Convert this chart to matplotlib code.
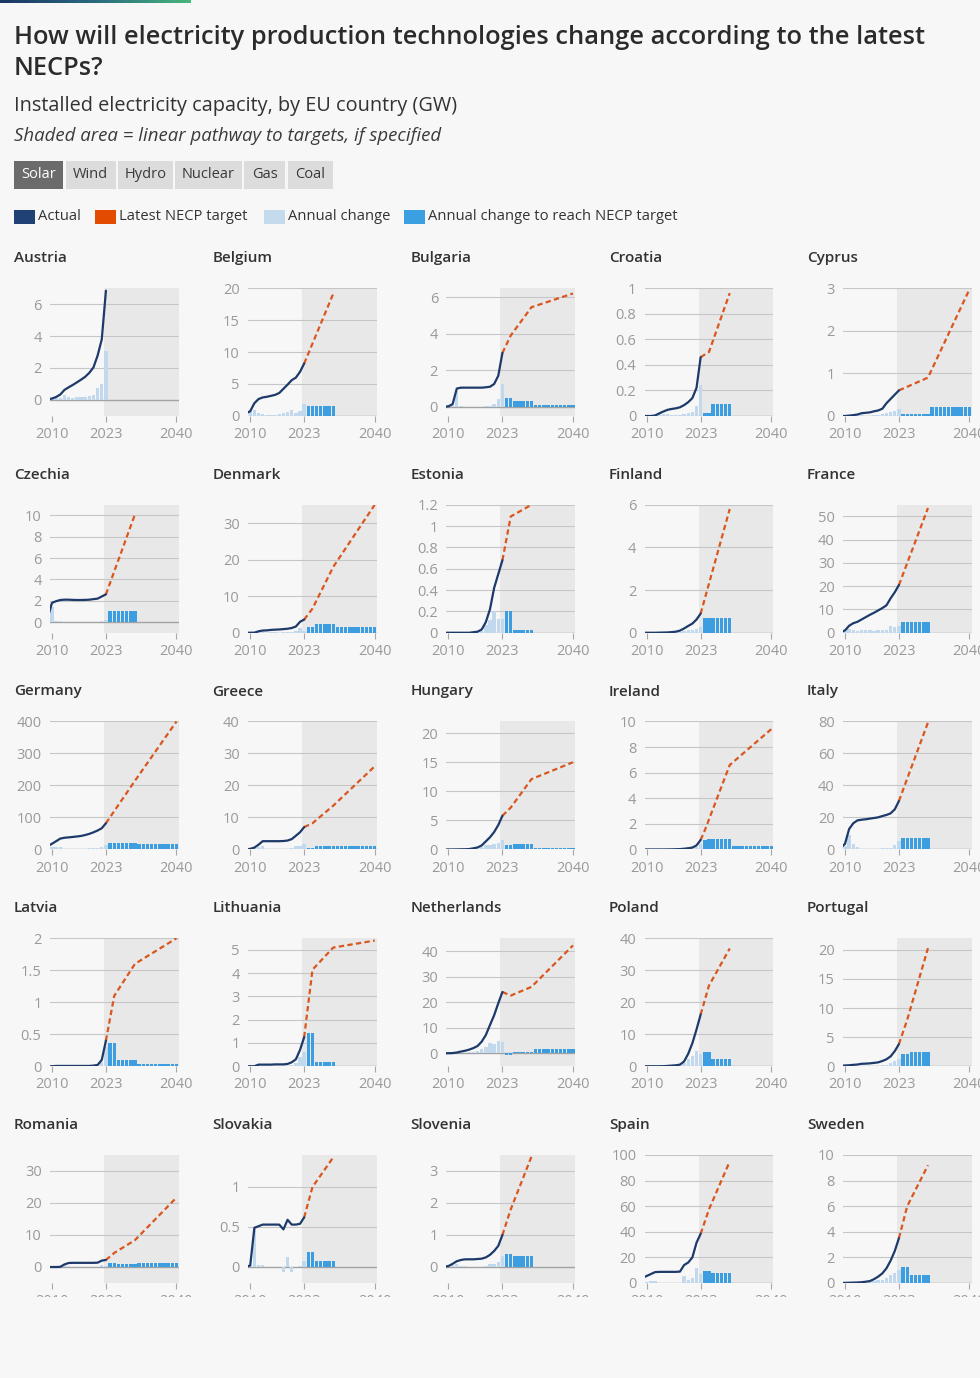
import numpy as np
import matplotlib
matplotlib.use('Agg')
import matplotlib.pyplot as plt
from matplotlib.patches import Rectangle
from matplotlib.colors import LinearSegmentedColormap

plt.rcParams['font.family'] = ['Open Sans', 'DejaVu Sans']

W, H = 980, 1378
BG = '#f7f7f7'

# ---- data (GW) ----
countries = ['Austria', 'Belgium', 'Bulgaria', 'Croatia', 'Cyprus',
             'Czechia', 'Denmark', 'Estonia', 'Finland', 'France',
             'Germany', 'Greece', 'Hungary', 'Ireland', 'Italy',
             'Latvia', 'Lithuania', 'Netherlands', 'Poland', 'Portugal',
             'Romania', 'Slovakia', 'Slovenia', 'Spain', 'Sweden']

actual_years = list(range(2009, 2024))
change_years = list(range(2010, 2024))
tabs = ['Solar', 'Wind', 'Hydro', 'Nuclear', 'Gas', 'Coal']
legend_labels = ['Actual', 'Latest NECP target', 'Annual change',
                 'Annual change to reach NECP target']

# installed capacity 2009-2023
actual = {
    'Austria': [0.05, 0.09, 0.19, 0.34, 0.63, 0.79, 0.94, 1.10, 1.27, 1.45, 1.70, 2.04, 2.78, 3.79, 6.83],
    'Belgium': [0.4, 0.75, 2.0, 2.65, 2.9, 3.0, 3.15, 3.3, 3.6, 4.25, 4.9, 5.6, 6.0, 6.9, 8.2],
    'Bulgaria': [0.01, 0.03, 0.15, 1.0, 1.05, 1.05, 1.05, 1.05, 1.05, 1.05, 1.07, 1.1, 1.25, 1.7, 2.95],
    'Croatia': [0.0, 0.0, 0.0, 0.004, 0.02, 0.035, 0.048, 0.055, 0.06, 0.068, 0.085, 0.108, 0.14, 0.22, 0.46],
    'Cyprus': [0.0, 0.0, 0.01, 0.02, 0.035, 0.065, 0.075, 0.085, 0.11, 0.13, 0.17, 0.3, 0.4, 0.5, 0.6],
    'Czechia': [0.46, 1.8, 1.96, 2.07, 2.1, 2.1, 2.08, 2.07, 2.07, 2.08, 2.1, 2.15, 2.2, 2.4, 2.6],
    'Denmark': [0.0, 0.01, 0.02, 0.4, 0.6, 0.65, 0.78, 0.85, 0.9, 1.0, 1.1, 1.3, 1.7, 3.0, 3.6],
    'Estonia': [0.0, 0.0, 0.0, 0.0, 0.0, 0.0, 0.0, 0.005, 0.01, 0.03, 0.1, 0.22, 0.42, 0.55, 0.68],
    'Finland': [0.0, 0.0, 0.0, 0.0, 0.005, 0.01, 0.015, 0.03, 0.05, 0.1, 0.2, 0.32, 0.43, 0.62, 0.9],
    'France': [0.3, 1.0, 3.0, 4.1, 4.7, 5.7, 6.7, 7.7, 8.6, 9.6, 10.6, 11.8, 14.8, 17.4, 20.5],
    'Germany': [10.5, 18.0, 25.9, 34.1, 36.7, 37.9, 39.2, 40.7, 42.3, 45.2, 48.9, 53.7, 59.4, 66.5, 82.0],
    'Greece': [0.05, 0.2, 0.6, 1.5, 2.6, 2.6, 2.6, 2.6, 2.6, 2.65, 2.8, 3.25, 4.3, 5.4, 7.0],
    'Hungary': [0.0, 0.0, 0.0, 0.01, 0.03, 0.04, 0.08, 0.2, 0.35, 0.7, 1.4, 2.1, 3.0, 4.2, 5.8],
    'Ireland': [0.0, 0.0, 0.0, 0.0, 0.0, 0.0, 0.005, 0.01, 0.02, 0.03, 0.06, 0.1, 0.15, 0.32, 0.75],
    'Italy': [1.2, 3.5, 12.8, 16.4, 18.2, 18.6, 18.9, 19.3, 19.7, 20.1, 20.9, 21.6, 22.6, 25.1, 30.3],
    'Latvia': [0.0, 0.0, 0.005, 0.005, 0.005, 0.005, 0.005, 0.005, 0.005, 0.005, 0.005, 0.01, 0.02, 0.1, 0.4],
    'Lithuania': [0.0, 0.0, 0.0, 0.07, 0.07, 0.07, 0.07, 0.08, 0.08, 0.08, 0.1, 0.17, 0.3, 0.7, 1.25],
    'Netherlands': [0.07, 0.09, 0.15, 0.37, 0.74, 1.05, 1.5, 2.1, 2.9, 4.6, 7.2, 11.1, 14.9, 19.6, 24.0],
    'Poland': [0.0, 0.0, 0.0, 0.0, 0.0, 0.03, 0.1, 0.2, 0.3, 0.5, 1.5, 3.9, 7.2, 11.5, 16.2],
    'Portugal': [0.1, 0.13, 0.17, 0.24, 0.3, 0.42, 0.45, 0.5, 0.58, 0.67, 0.9, 1.2, 1.7, 2.6, 3.8],
    'Romania': [0.0, 0.0, 0.0, 0.05, 0.8, 1.25, 1.3, 1.3, 1.3, 1.3, 1.3, 1.3, 1.35, 2.0, 2.2],
    'Slovakia': [0.0, 0.02, 0.49, 0.51, 0.53, 0.53, 0.53, 0.53, 0.53, 0.47, 0.59, 0.53, 0.53, 0.54, 0.62],
    'Slovenia': [0.01, 0.03, 0.1, 0.18, 0.22, 0.24, 0.24, 0.24, 0.25, 0.26, 0.3, 0.38, 0.5, 0.66, 1.0],
    'Spain': [4.0, 5.5, 7.0, 8.5, 8.7, 8.7, 8.7, 8.7, 8.7, 8.9, 14.0, 16.0, 20.0, 31.5, 38.5],
    'Sweden': [0.005, 0.01, 0.02, 0.03, 0.04, 0.06, 0.1, 0.15, 0.3, 0.5, 0.75, 1.15, 1.75, 2.5, 3.5],
}

# annual change 2010-2023
annual_change = {
    'Austria': [0.04, 0.1, 0.15, 0.29, 0.16, 0.15, 0.16, 0.17, 0.18, 0.25, 0.34, 0.74, 1.01, 3.04],
    'Belgium': [0.8, 0.95, 0.5, 0.25, 0.1, 0.1, 0.15, 0.3, 0.4, 0.65, 0.95, 0.4, 0.75, 1.8],
    'Bulgaria': [0.02, 0.12, 0.85, 0.05, 0.0, 0.0, 0.0, 0.0, 0.0, 0.02, 0.03, 0.15, 0.45, 1.25],
    'Croatia': [0.0, 0.0, 0.004, 0.016, 0.015, 0.013, 0.007, 0.005, 0.008, 0.017, 0.023, 0.032, 0.08, 0.24],
    'Cyprus': [0.0, 0.01, 0.01, 0.015, 0.03, 0.01, 0.01, 0.025, 0.02, 0.04, 0.08, 0.1, 0.12, 0.16],
    'Czechia': [1.45, 0.06, 0.1, 0.02, 0.0, 0.0, 0.0, 0.0, 0.01, 0.02, 0.05, 0.05, 0.1, 0.2],
    'Denmark': [0.005, 0.01, 0.38, 0.2, 0.05, 0.18, 0.07, 0.05, 0.1, 0.1, 0.2, 0.4, 1.3, 0.6],
    'Estonia': [0.0, 0.0, 0.0, 0.0, 0.0, 0.0, 0.005, 0.005, 0.02, 0.07, 0.12, 0.2, 0.13, 0.13],
    'Finland': [0.0, 0.0, 0.0, 0.005, 0.005, 0.005, 0.015, 0.02, 0.05, 0.1, 0.12, 0.11, 0.19, 0.28],
    'France': [0.8, 1.8, 1.1, 0.6, 1.0, 1.0, 1.0, 0.9, 1.0, 1.0, 1.2, 3.0, 2.6, 3.1],
    'Germany': [7.4, 7.9, 8.2, 2.6, 1.2, 1.3, 1.5, 1.6, 2.9, 3.7, 4.8, 5.7, 7.1, 15.5],
    'Greece': [0.15, 0.45, 0.9, 1.05, 0.02, 0.01, 0.01, 0.01, 0.05, 0.2, 0.45, 1.0, 1.2, 1.6],
    'Hungary': [0.0, 0.0, 0.01, 0.02, 0.01, 0.04, 0.12, 0.15, 0.35, 0.7, 0.7, 0.9, 1.2, 1.6],
    'Ireland': [0.0, 0.0, 0.0, 0.0, 0.0, 0.005, 0.005, 0.01, 0.01, 0.03, 0.04, 0.05, 0.17, 0.43],
    'Italy': [2.3, 9.3, 3.6, 1.8, 0.4, 0.3, 0.4, 0.4, 0.4, 0.8, 0.7, 1.0, 2.5, 5.2],
    'Latvia': [0.0, 0.0, 0.0, 0.0, 0.0, 0.0, 0.0, 0.0, 0.0, 0.0, 0.005, 0.01, 0.07, 0.3],
    'Lithuania': [0.0, 0.0, 0.07, 0.0, 0.0, 0.0, 0.01, 0.0, 0.0, 0.02, 0.07, 0.15, 0.4, 0.6],
    'Netherlands': [0.02, 0.06, 0.22, 0.37, 0.31, 0.45, 0.6, 0.8, 1.7, 2.6, 3.9, 3.8, 4.7, 4.4],
    'Poland': [0.0, 0.0, 0.0, 0.0, 0.03, 0.07, 0.1, 0.1, 0.2, 1.0, 2.4, 3.3, 4.7, 3.7],
    'Portugal': [0.03, 0.04, 0.07, 0.06, 0.12, 0.03, 0.05, 0.08, 0.09, 0.23, 0.3, 0.5, 0.9, 1.2],
    'Romania': [0.0, 0.0, 0.05, 0.75, 0.45, 0.05, 0.0, 0.0, 0.0, 0.0, 0.0, 0.05, 0.65, 0.2],
    'Slovakia': [0.02, 0.47, 0.02, 0.02, 0.0, 0.0, 0.0, 0.0, -0.06, 0.12, -0.06, 0.0, 0.01, 0.08],
    'Slovenia': [0.02, 0.07, 0.08, 0.04, 0.02, 0.0, 0.0, 0.01, 0.01, 0.04, 0.1, 0.1, 0.16, 0.35],
    'Spain': [1.0, 1.5, 1.5, 0.2, 0.0, 0.0, 0.0, 0.0, 0.2, 5.1, 2.0, 4.0, 11.5, 7.0],
    'Sweden': [0.005, 0.01, 0.01, 0.01, 0.02, 0.04, 0.05, 0.15, 0.2, 0.25, 0.4, 0.6, 0.75, 1.0],
}

# NECP target pathway points (first point = 2023 actual)
target_years = {
    'Austria': [], 'Belgium': [2023, 2030], 'Bulgaria': [2023, 2025, 2030, 2040],
    'Croatia': [2023, 2025, 2030], 'Cyprus': [2023, 2030, 2040],
    'Czechia': [2023, 2030], 'Denmark': [2023, 2025, 2030, 2040],
    'Estonia': [2023, 2025, 2030], 'Finland': [2023, 2030], 'France': [2023, 2030],
    'Germany': [2023, 2030, 2040], 'Greece': [2023, 2025, 2030, 2040],
    'Hungary': [2023, 2025, 2030, 2040], 'Ireland': [2023, 2024, 2030, 2040],
    'Italy': [2023, 2030], 'Latvia': [2023, 2025, 2030, 2040],
    'Lithuania': [2023, 2025, 2030, 2040], 'Netherlands': [2023, 2025, 2030, 2040],
    'Poland': [2023, 2025, 2030], 'Portugal': [2023, 2025, 2030],
    'Romania': [2023, 2025, 2030, 2040], 'Slovakia': [2023, 2025, 2030],
    'Slovenia': [2023, 2025, 2030], 'Spain': [2023, 2025, 2030], 'Sweden': [2023, 2025, 2030],
}
target_values = {
    'Austria': [], 'Belgium': [8.2, 19.1], 'Bulgaria': [2.95, 3.9, 5.45, 6.2],
    'Croatia': [0.46, 0.5, 0.96], 'Cyprus': [0.6, 0.9, 2.97],
    'Czechia': [2.6, 10.1], 'Denmark': [3.6, 6.6, 18.0, 35.0],
    'Estonia': [0.68, 1.09, 1.2], 'Finland': [0.9, 5.8], 'France': [20.5, 53.6],
    'Germany': [82.0, 215.0, 400.0], 'Greece': [7.0, 8.2, 13.7, 26.0],
    'Hungary': [5.8, 7.2, 12.1, 15.0], 'Ireland': [0.75, 1.5, 6.6, 9.4],
    'Italy': [30.3, 79.4], 'Latvia': [0.4, 1.1, 1.6, 2.0],
    'Lithuania': [1.25, 4.15, 5.1, 5.4], 'Netherlands': [24.0, 22.6, 26.0, 42.2],
    'Poland': [16.2, 25.2, 36.8], 'Portugal': [3.8, 8.0, 20.3],
    'Romania': [2.2, 4.4, 8.4, 21.7], 'Slovakia': [0.62, 1.0, 1.37],
    'Slovenia': [1.0, 1.8, 3.45], 'Spain': [38.5, 57.5, 95.0], 'Sweden': [3.5, 6.0, 9.2],
}
# annual change to reach target, from 2024 on
target_change = {
    'Austria': [],
    'Belgium': [1.55] * 7,
    'Bulgaria': [0.47] * 2 + [0.31] * 5 + [0.075] * 10,
    'Croatia': [0.02] * 2 + [0.092] * 5,
    'Cyprus': [0.043] * 7 + [0.207] * 10,
    'Czechia': [1.07] * 7,
    'Denmark': [1.5] * 2 + [2.3] * 5 + [1.7] * 10,
    'Estonia': [0.2] * 2 + [0.022] * 5,
    'Finland': [0.7] * 7,
    'France': [4.7] * 7,
    'Germany': [19.0] * 7 + [18.5] * 10,
    'Greece': [0.6] * 2 + [1.1] * 5 + [1.23] * 10,
    'Hungary': [0.7] * 2 + [0.98] * 5 + [0.29] * 10,
    'Ireland': [0.75] + [0.85] * 6 + [0.28] * 10,
    'Italy': [7.0] * 7,
    'Latvia': [0.36] * 2 + [0.1] * 5 + [0.04] * 10,
    'Lithuania': [1.45] * 2 + [0.19] * 5 + [0.03] * 10,
    'Netherlands': [-0.7] * 2 + [0.68] * 5 + [1.62] * 10,
    'Poland': [4.5] * 2 + [2.3] * 5,
    'Portugal': [2.1] * 2 + [2.45] * 5,
    'Romania': [1.1] * 2 + [0.8] * 5 + [1.33] * 10,
    'Slovakia': [0.19] * 2 + [0.075] * 5,
    'Slovenia': [0.4] * 2 + [0.33] * 5,
    'Spain': [9.5] * 2 + [7.5] * 5,
    'Sweden': [1.25] * 2 + [0.64] * 5,
}

# y axis range and gridline step per country
y_range = {
    'Austria': (-1, 7), 'Belgium': (0, 20), 'Bulgaria': (-0.5, 6.5), 'Croatia': (0, 1),
    'Cyprus': (0, 3), 'Czechia': (-1, 11), 'Denmark': (0, 35), 'Estonia': (0, 1.2),
    'Finland': (0, 6), 'France': (0, 55), 'Germany': (0, 400), 'Greece': (0, 40),
    'Hungary': (0, 22), 'Ireland': (0, 10), 'Italy': (0, 80), 'Latvia': (0, 2),
    'Lithuania': (0, 5.5), 'Netherlands': (-5, 45), 'Poland': (0, 40), 'Portugal': (0, 22),
    'Romania': (-5, 35), 'Slovakia': (-0.2, 1.4), 'Slovenia': (-0.5, 3.5),
    'Spain': (0, 100), 'Sweden': (0, 10),
}
y_step = {
    'Austria': 2, 'Belgium': 5, 'Bulgaria': 2, 'Croatia': 0.2, 'Cyprus': 1,
    'Czechia': 2, 'Denmark': 10, 'Estonia': 0.2, 'Finland': 2, 'France': 10,
    'Germany': 100, 'Greece': 10, 'Hungary': 5, 'Ireland': 2, 'Italy': 20,
    'Latvia': 0.5, 'Lithuania': 1, 'Netherlands': 10, 'Poland': 10, 'Portugal': 5,
    'Romania': 10, 'Slovakia': 0.5, 'Slovenia': 1, 'Spain': 20, 'Sweden': 2,
}

# ---- colours ----
navy = '#1d3a6a'
orange = '#d9571f'
light = '#c2d8ec'
blue = '#3c9ee0'
shade = '#e8e8e8'
gridc = '#c6c6c6'
tickc = '#9a9a9a'
textc = '#333333'


def fx(x):
    return x / W


def fy(y):
    return 1 - y / H


fig = plt.figure(figsize=(W / 100, H / 100), dpi=100, facecolor=BG)

# gradient strip at top
grad = fig.add_axes([0, fy(3.5), fx(190), 3.5 / H])
cmap = LinearSegmentedColormap.from_list('g', ['#1b3564', '#2a6b80', '#47b77a'])
grad.imshow(np.linspace(0, 1, 256)[None, :], aspect='auto', cmap=cmap)
grad.axis('off')

# titles
fig.text(fx(14), fy(44), 'How will electricity production technologies change according to the latest',
         fontsize=18.3, fontweight='semibold', color='#2b2b2b', va='baseline')
fig.text(fx(14), fy(75), 'NECPs?', fontsize=18.3, fontweight='semibold', color='#2b2b2b', va='baseline')
fig.text(fx(14), fy(111), 'Installed electricity capacity, by EU country (GW)',
         fontsize=14.3, color=textc, va='baseline')
fig.text(fx(14), fy(141), 'Shaded area = linear pathway to targets, if specified',
         fontsize=13.4, style='italic', color='#3a3a3a', va='baseline')

# technology tabs
tab_x = [(14, 62.5), (65.5, 115.5), (118, 172.5), (175, 241.5), (244, 285), (287.5, 332.5)]
for (x0, x1), lab in zip(tab_x, tabs):
    active = lab == 'Solar'
    fig.patches.append(Rectangle((fx(x0), fy(188.5)), fx(x1 - x0), 27.5 / H,
                                 transform=fig.transFigure, facecolor='#6b6b6b' if active else '#dcdcdc',
                                 edgecolor='none'))
    fig.text(fx((x0 + x1) / 2), fy(175), lab, fontsize=10.5, ha='center', va='center',
             color='white' if active else '#3a3a3a')

# legend
leg_x = [14, 95, 264, 404]
leg_c = ['#1f4176', '#e34c00', '#c4dbee', '#3aa0e2']
for x0, col, lab in zip(leg_x, leg_c, legend_labels):
    fig.patches.append(Rectangle((fx(x0), fy(224)), fx(21), 14 / H, transform=fig.transFigure,
                                 facecolor=col, edgecolor='none'))
    fig.text(fx(x0 + 24), fy(216.5), lab, fontsize=10.6, va='center', color=textc)

# small multiples
for i, name in enumerate(countries):
    r, c = divmod(i, 5)
    left = 49.9 + c * 198.25
    top = 288 + r * 216.75
    ax = fig.add_axes([fx(left), fy(top + 128), fx(128.65), 128 / H])
    ax.set_facecolor('none')
    lo, hi = y_range[name]
    ticks = np.arange(0, hi + 1e-9, y_step[name])

    ax.axvspan(2022.5, 2040.5, color=shade, lw=0, zorder=0)
    for t in ticks[1:]:
        ax.axhline(t, color=gridc, lw=0.8, zorder=1)
    ax.axhline(0, color='#a3a3a3', lw=1.0, zorder=1.5)

    ax.bar(change_years, annual_change[name], width=0.82, color=light, lw=0, zorder=2)
    tc = target_change[name]
    if tc:
        ax.bar(list(range(2024, 2024 + len(tc))), tc, width=0.82, color=blue, lw=0, zorder=2)
    if target_years[name]:
        ax.plot(target_years[name], target_values[name], color=orange, lw=1.6,
                dashes=(2.4, 1.5), zorder=3)
    ax.plot(actual_years, actual[name], color=navy, lw=1.6, zorder=4,
            solid_joinstyle='round', solid_capstyle='round')

    ax.set_xlim(2009.5, 2040.5)
    ax.set_ylim(lo, hi)
    ax.set_yticks(ticks)
    ax.set_yticklabels([f'{t:g}' for t in ticks])
    ax.set_xticks([2010, 2023, 2040])
    ax.set_xticklabels(['2010', '2023', '2040'])
    for s in ax.spines.values():
        s.set_visible(False)
    ax.tick_params(axis='y', length=0, pad=6, labelsize=10.5, labelcolor=tickc)
    ax.tick_params(axis='x', length=4, width=0.8, color='#a8a8a8', pad=4,
                   labelsize=10.5, labelcolor=tickc)

    fig.text(fx(14 + c * 198.25), fy(258 + r * 216.75), name, fontsize=11,
             fontweight='semibold', color=textc, va='center')

# the view is cut off at the bottom
fig.add_artist(Rectangle((0, 0), 1, fy(1297), transform=fig.transFigure,
                         facecolor=BG, edgecolor='none', zorder=10))

fig.savefig('out.png', dpi=100, facecolor=BG)
